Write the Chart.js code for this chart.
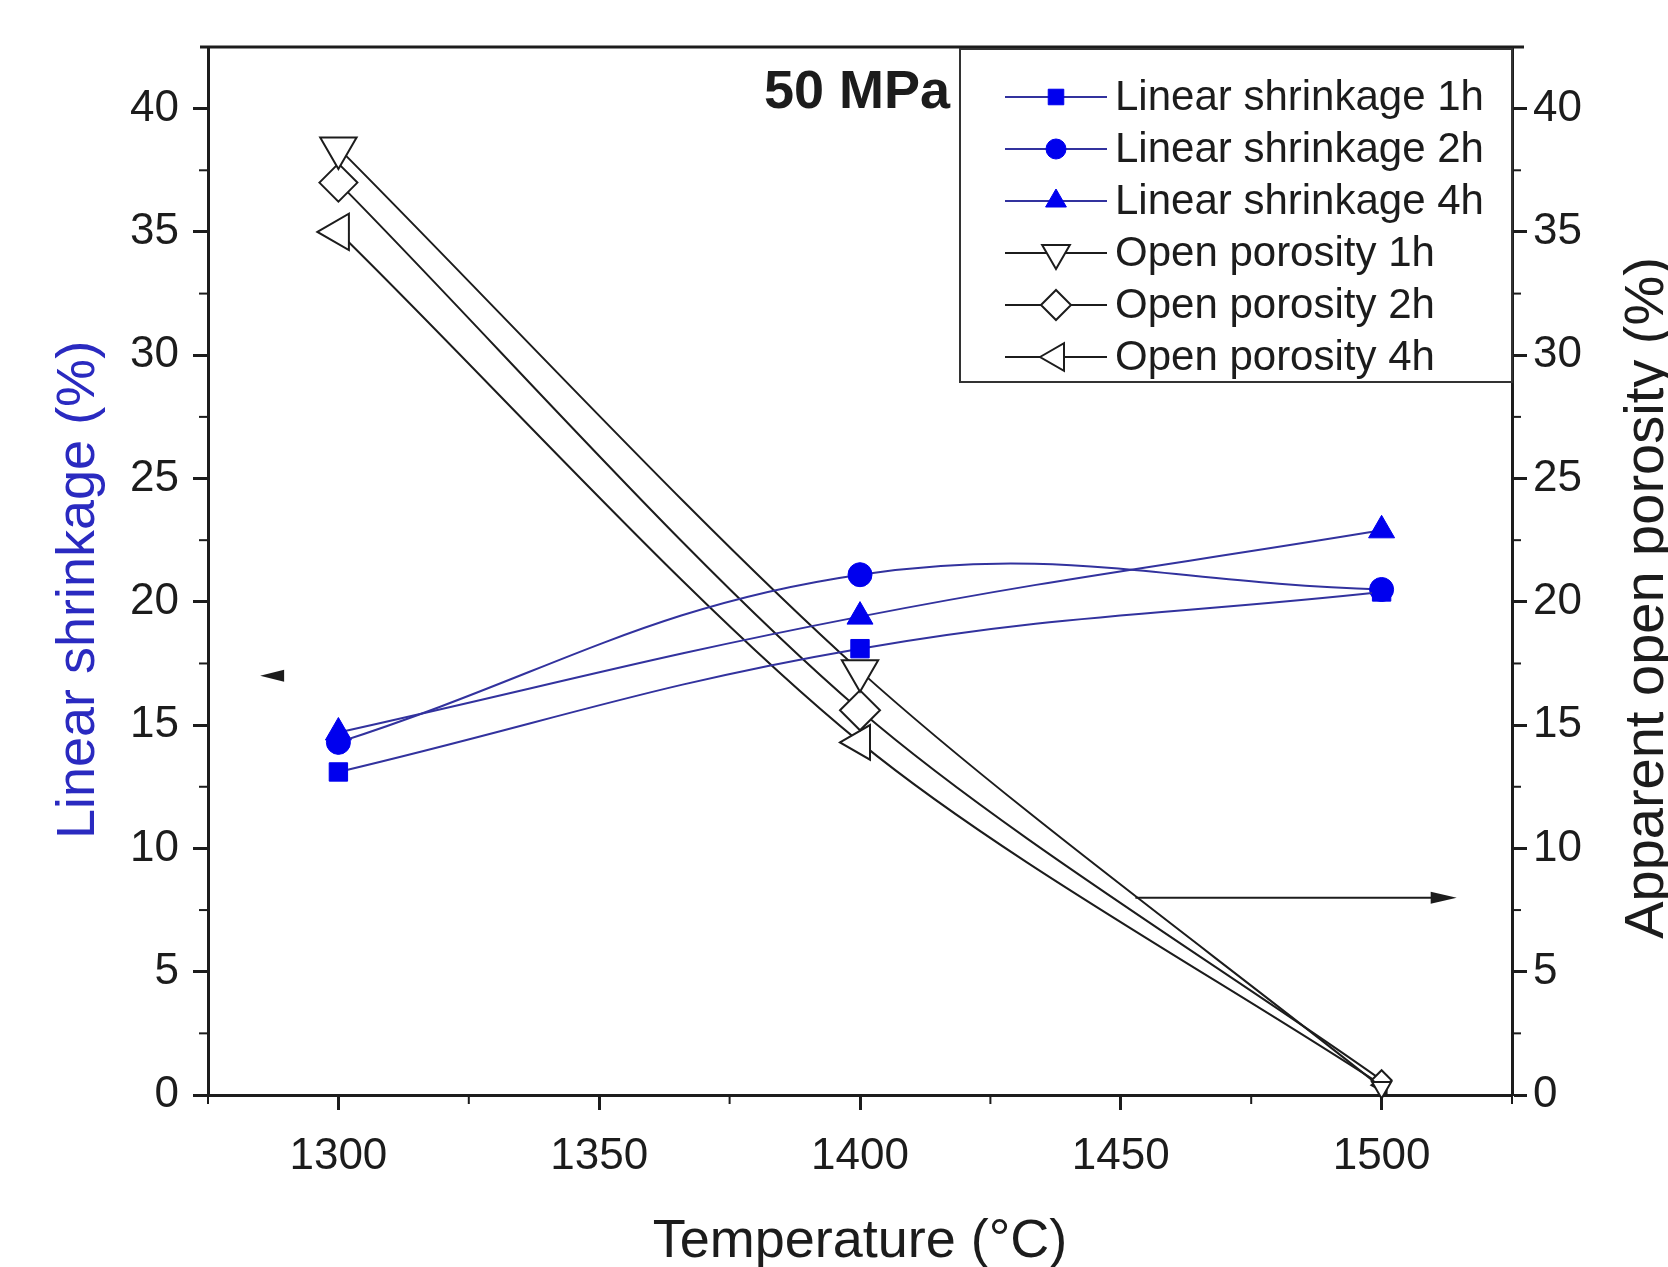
<!DOCTYPE html>
<html lang="en">
<head>
<meta charset="UTF-8">
<title>Linear shrinkage and open porosity at 50 MPa</title>
<script src="https://cdn.jsdelivr.net/npm/chart.js"></script>
<style>
  html, body { margin: 0; padding: 0; background: #fff; }
  #wrap { width: 1668px; height: 1267px; }
</style>
</head>
<body>
<div id="wrap"><canvas id="chart" width="1668" height="1267"></canvas></div>
<script>
  // values
  const temperatures = [1300, 1400, 1500];
  const shrink1h = [13.1, 18.1, 20.4];
  const shrink2h = [14.3, 21.1, 20.5];
  const shrink4h = [14.7, 19.4, 22.9];
  const porosity1h = [38.4, 17.2, 0.3];
  const porosity2h = [37.0, 15.6, 0.6];
  const porosity4h = [35.0, 14.3, 0.4];

  const xTicks = [1300, 1350, 1400, 1450, 1500];
  const yTicks = [0, 5, 10, 15, 20, 25, 30, 35, 40];
  const legendLabels = ['Linear shrinkage 1h', 'Linear shrinkage 2h', 'Linear shrinkage 4h',
                        'Open porosity 1h', 'Open porosity 2h', 'Open porosity 4h'];

  const FONT = '"Liberation Sans", Arial, sans-serif';
  const INK = '#1c1c1c';
  const BLUE_LINE = '#32329e';
  const BLUE_FILL = '#0000ee';
  const BLUE_TEXT = '#2a2ac0';

  const pts = (ys) => temperatures.map((t, i) => ({ x: t, y: ys[i] }));

  function shrinkSet(label, ys, style, r) {
    return {
      label, data: pts(ys), yAxisID: 'y',
      borderColor: BLUE_LINE, borderWidth: 2, tension: 0.4,
      pointStyle: style, pointRadius: r, pointHoverRadius: r,
      pointBackgroundColor: BLUE_FILL, pointBorderColor: BLUE_FILL, pointBorderWidth: 1,
      clip: false
    };
  }
  function porosSet(label, ys, style, rot, r) {
    return {
      label, data: pts(ys), yAxisID: 'y2',
      borderColor: INK, borderWidth: 2, tension: 0.3,
      pointStyle: style, pointRotation: rot, pointRadius: r, pointHoverRadius: r,
      pointBackgroundColor: '#ffffff', pointBorderColor: INK, pointBorderWidth: 2,
      clip: false
    };
  }

  // minor ticks, titles, legend, arrows
  const decor = {
    id: 'decor',
    afterDraw(chart) {
      const ctx = chart.ctx;
      const a = chart.chartArea;
      const x = chart.scales.x, y = chart.scales.y, y2 = chart.scales.y2;
      ctx.save();
      ctx.strokeStyle = INK;
      ctx.lineWidth = 3;

      // top frame line
      ctx.beginPath();
      ctx.moveTo(a.left - 8, a.top);
      ctx.lineTo(a.right + 12, a.top);
      ctx.stroke();

      // minor ticks
      ctx.lineWidth = 2;
      for (let v = 1275; v <= 1525; v += 50) {
        const px = x.getPixelForValue(v);
        ctx.beginPath(); ctx.moveTo(px, a.bottom); ctx.lineTo(px, a.bottom + 9); ctx.stroke();
      }
      for (let v = 2.5; v < 42; v += 5) {
        const py = y.getPixelForValue(v);
        ctx.beginPath(); ctx.moveTo(a.left, py); ctx.lineTo(a.left - 9, py); ctx.stroke();
        ctx.beginPath(); ctx.moveTo(a.right, py); ctx.lineTo(a.right + 9, py); ctx.stroke();
      }

      // axis titles
      ctx.fillStyle = INK;
      ctx.font = '54px ' + FONT;
      ctx.textAlign = 'center';
      ctx.textBaseline = 'middle';
      ctx.fillText('Temperature (°C)', (a.left + a.right) / 2, 1242);

      ctx.save();
      ctx.translate(79, 590);
      ctx.rotate(-Math.PI / 2);
      ctx.fillStyle = BLUE_TEXT;
      ctx.fillText('Linear shrinkage (%)', 0, 0);
      ctx.restore();

      ctx.save();
      ctx.translate(1648, 598);
      ctx.rotate(-Math.PI / 2);
      ctx.font = '56px ' + FONT;
      ctx.fillText('Apparent open porosity (%)', 0, 0);
      ctx.restore();

      // pressure label
      ctx.font = 'bold 54px ' + FONT;
      ctx.textAlign = 'right';
      ctx.textBaseline = 'alphabetic';
      ctx.fillText('50 MPa', 950, 108);

      // arrows
      ctx.fillStyle = INK;
      ctx.strokeStyle = INK;
      const lx0 = x.getPixelForValue(1285), lx1 = x.getPixelForValue(1289.6), ly = y.getPixelForValue(17);
      ctx.beginPath();
      ctx.moveTo(lx0, ly); ctx.lineTo(lx1, ly - 6); ctx.lineTo(lx1, ly + 6); ctx.closePath(); ctx.fill();
      const rx0 = x.getPixelForValue(1452.8), rx1 = x.getPixelForValue(1514.4), ry = y2.getPixelForValue(8);
      ctx.lineWidth = 2;
      ctx.beginPath(); ctx.moveTo(rx0, ry); ctx.lineTo(rx1 - 20, ry); ctx.stroke();
      ctx.beginPath();
      ctx.moveTo(rx1, ry); ctx.lineTo(rx1 - 26, ry - 6); ctx.lineTo(rx1 - 26, ry + 6); ctx.closePath(); ctx.fill();

      // legend box
      const bx = 960, by = a.top + 2, bw = a.right - 960, bh = 333;
      ctx.fillStyle = '#ffffff';
      ctx.fillRect(bx, by, bw, bh);
      ctx.strokeStyle = '#333';
      ctx.lineWidth = 2;
      ctx.strokeRect(bx, by, bw, bh);

      const legendR = [11, 10, 12, 16, 15, 16];
      ctx.font = '42px ' + FONT;
      ctx.textAlign = 'left';
      ctx.textBaseline = 'middle';
      chart.data.datasets.forEach((ds, i) => {
        const ry0 = 97 + i * 52;
        ctx.strokeStyle = ds.borderColor;
        ctx.lineWidth = 2;
        ctx.beginPath(); ctx.moveTo(1005, ry0); ctx.lineTo(1107, ry0); ctx.stroke();
        ctx.fillStyle = ds.pointBackgroundColor;
        ctx.strokeStyle = ds.pointBorderColor;
        ctx.lineWidth = ds.pointBorderWidth;
        Chart.helpers.drawPoint(ctx, {
          pointStyle: ds.pointStyle, rotation: ds.pointRotation || 0,
          radius: legendR[i], borderWidth: ds.pointBorderWidth
        }, 1056, ry0);
        ctx.fillStyle = INK;
        ctx.fillText(legendLabels[i], 1115, ry0 + 1);
      });
      ctx.restore();
    }
  };

  const tickFont = { family: FONT, size: 44 };
  const plain = (v) => String(v);

  new Chart(document.getElementById('chart'), {
    type: 'line',
    data: {
      datasets: [
        shrinkSet(legendLabels[0], shrink1h, 'rect', 13),
        shrinkSet(legendLabels[1], shrink2h, 'circle', 12),
        shrinkSet(legendLabels[2], shrink4h, 'triangle', 15),
        porosSet(legendLabels[3], porosity1h, 'triangle', 180, [21, 21, 11]),
        porosSet(legendLabels[4], porosity2h, 'rectRot', 0, [19, 20, 10]),
        porosSet(legendLabels[5], porosity4h, 'triangle', 270, [21, 20, 10])
      ]
    },
    options: {
      responsive: false,
      animation: false,
      devicePixelRatio: 1,
      layout: { padding: { top: 47, left: 0, right: 0, bottom: 0 } },
      plugins: { legend: { display: false }, tooltip: { enabled: false } },
      scales: {
        x: {
          type: 'linear', position: 'bottom', min: 1275, max: 1525,
          afterBuildTicks: (ax) => { ax.ticks = xTicks.map(v => ({ value: v })); },
          afterFit: (ax) => { ax.height = 172; },
          grid: { drawOnChartArea: false, drawTicks: true, tickLength: 15, tickWidth: 3, tickColor: INK },
          border: { display: true, width: 3, color: INK },
          ticks: { font: tickFont, color: INK, padding: 20, maxRotation: 0, callback: plain }
        },
        y: {
          type: 'linear', position: 'left', min: 0, max: 42.5,
          afterBuildTicks: (ax) => { ax.ticks = yTicks.map(v => ({ value: v })); },
          afterFit: (ax) => { ax.width = 208; },
          grid: { drawOnChartArea: false, drawTicks: true, tickLength: 15, tickWidth: 3, tickColor: INK },
          border: { display: true, width: 3, color: INK },
          ticks: { font: tickFont, color: INK, padding: 14, callback: plain }
        },
        y2: {
          type: 'linear', position: 'right', min: 0, max: 42.5,
          afterBuildTicks: (ax) => { ax.ticks = yTicks.map(v => ({ value: v })); },
          afterFit: (ax) => { ax.width = 156; },
          grid: { drawOnChartArea: false, drawTicks: true, tickLength: 15, tickWidth: 3, tickColor: INK },
          border: { display: true, width: 3, color: INK },
          ticks: { font: tickFont, color: INK, padding: 6, callback: plain }
        }
      }
    },
    plugins: [decor]
  });
</script>
</body>
</html>
